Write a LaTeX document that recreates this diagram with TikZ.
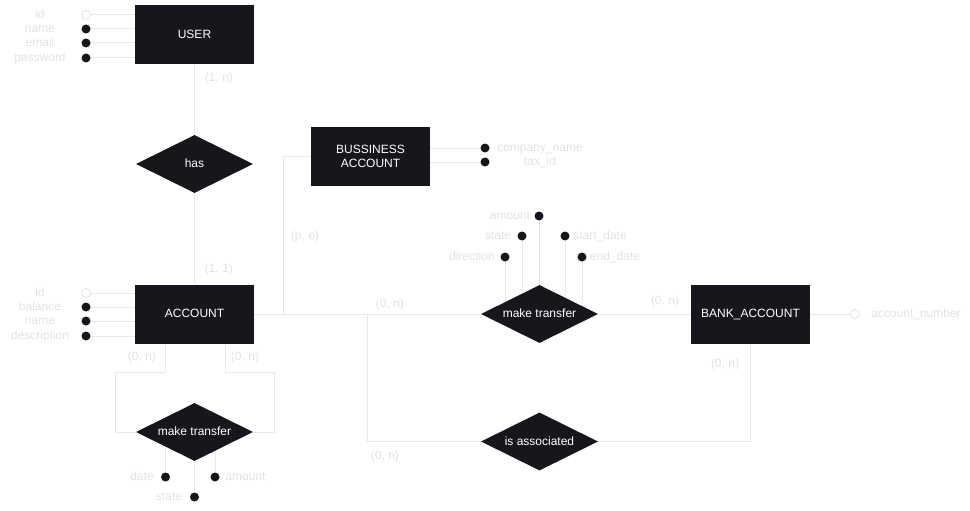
\documentclass[tikz,border=0pt]{standalone}
\usepackage{fontspec}
\setmainfont{Liberation Sans}
\usetikzlibrary{shapes.geometric,backgrounds}
\definecolor{ent}{HTML}{18161C}
\definecolor{lbl}{HTML}{E2E2E2}
\definecolor{ln}{HTML}{E8E8E8}
\begin{document}
\begin{tikzpicture}[x=1pt,y=-1pt,
  entity/.style={fill=ent, draw=none, minimum width=119pt, minimum height=59pt, text=white,
    font=\fontsize{12}{14}\selectfont, align=center, inner sep=0pt},
  oneline/.style={text height=8.6pt, text depth=1pt},
  relation/.style={diamond, aspect=2, fill=ent, draw=none, minimum width=117pt, minimum height=58pt,
    text=white, font=\fontsize{12}{14}\selectfont, inner sep=0pt, oneline},
  dot/.style={circle, fill=ent, draw=none, minimum size=9pt, inner sep=0pt},
  key/.style={circle, fill=white, draw=lbl, line width=0.8pt, minimum size=9pt, inner sep=0pt},
  lab/.style={text=lbl, font=\fontsize{12}{14}\selectfont, inner sep=0pt, oneline},
  conn/.style={draw=ln, line width=1pt}]
\useasboundingbox (0,0) rectangle (970,511);

% entities
\node[entity, oneline] (user) at (194.5,34.5) {USER};
\node[entity, oneline] (account) at (194.5,314) {ACCOUNT};
\node[entity] (bus) at (370.5,156) {BUSSINESS\\ACCOUNT};
\node[entity, oneline] (bank) at (750.5,314) {BANK\_ACCOUNT};

% relations
\node[relation] (has) at (194.5,164) {has};
\node[relation] (mt1) at (194.5,432) {make transfer};
\node[relation] (mt2) at (539.5,314) {make transfer};
\node[relation] (assoc) at (539.5,441.5) {is associated};

% user attributes
\node[key] (u1) at (86,15) {};
\node[dot] (u2) at (86,29) {};
\node[dot] (u3) at (86,43) {};
\node[dot] (u4) at (86,58) {};
\node[lab] at (40,15) {id};
\node[lab] at (40,29) {name};
\node[lab] at (40,43) {email};
\node[lab] at (40,58) {password};

% account attributes
\node[key] (a1) at (86,293) {};
\node[dot] (a2) at (86,307) {};
\node[dot] (a3) at (86,321) {};
\node[dot] (a4) at (86,336) {};
\node[lab] at (40,293) {id};
\node[lab] at (40,307) {balance};
\node[lab] at (40,321) {name};
\node[lab] at (40,336) {description};

% business account attributes
\node[dot] (b1) at (485,148) {};
\node[dot] (b2) at (485,162) {};
\node[lab] at (540,148) {company\_name};
\node[lab] at (540,162) {tax\_id};

% bank account attribute
\node[key] (k1) at (855,314) {};
\node[lab] at (916,314) {account\_number};

% make transfer (middle) attributes
\node[dot] (m1) at (539,216) {};
\node[dot] (m2) at (522,236) {};
\node[dot] (m3) at (505,257) {};
\node[dot] (m4) at (565,236) {};
\node[dot] (m5) at (582,257) {};
\node[lab] at (510,216) {amount};
\node[lab] at (498,236) {state};
\node[lab] at (472,257) {direction};
\node[lab] at (600,236) {start\_date};
\node[lab] at (615,257) {end\_date};

% make transfer (bottom) attributes
\node[dot] (t1) at (165.5,477) {};
\node[dot] (t2) at (215,477) {};
\node[dot] (t3) at (194.5,497) {};
\node[lab] at (142,477) {date};
\node[lab] at (245.5,477) {amount};
\node[lab] at (169,497) {state};

% cardinalities
\node[lab] at (219,78) {(1, n)};
\node[lab] at (219,269) {(1, 1)};
\node[lab] at (305,236) {(p, e)};
\node[lab] at (142,357) {(0, n)};
\node[lab] at (245,357) {(0, n)};
\node[lab] at (390,304) {(0, n)};
\node[lab] at (665,301) {(0, n)};
\node[lab] at (725,364) {(0, n)};
\node[lab] at (385,456) {(0, n)};

\coordinate (isa) at (283,314);
\coordinate (split) at (367,314);

\begin{scope}[on background layer]
  % attribute lines
  \foreach \n in {u1,u2,u3,u4} \draw[conn] (\n) -- (\n -| user.west);
  \foreach \n in {a1,a2,a3,a4} \draw[conn] (\n) -- (\n -| account.west);
  \foreach \n in {b1,b2} \draw[conn] (\n) -- (\n -| bus.east);
  \draw[conn] (bank.east) -- (k1);
  \foreach \n in {m1,m2,m3,m4,m5} \draw[conn] (\n) -- (\n |- mt2.center);
  \foreach \n in {t1,t2,t3} \draw[conn] (\n) -- (\n |- mt1.center);
  % relationship lines
  \draw[conn] (user) -- (has);
  \draw[conn] (has) -- (account);
  \draw[conn] ([xshift=-29.5pt]account.south) -- ++(0,29) -| (115,432) -- (mt1.west);
  \draw[conn] ([xshift=30.5pt]account.south) -- ++(0,29) -| (274,432) -- (mt1.east);
  \draw[conn] (bus.west) -| (isa);
  \draw[conn] (account.east) -- (mt2.west);
  \draw[conn] (mt2.east) -- (bank.west);
  \draw[conn] (split) |- (assoc.west);
  \draw[conn] (bank.south) |- (assoc.east);
\end{scope}
\end{tikzpicture}
\end{document}
